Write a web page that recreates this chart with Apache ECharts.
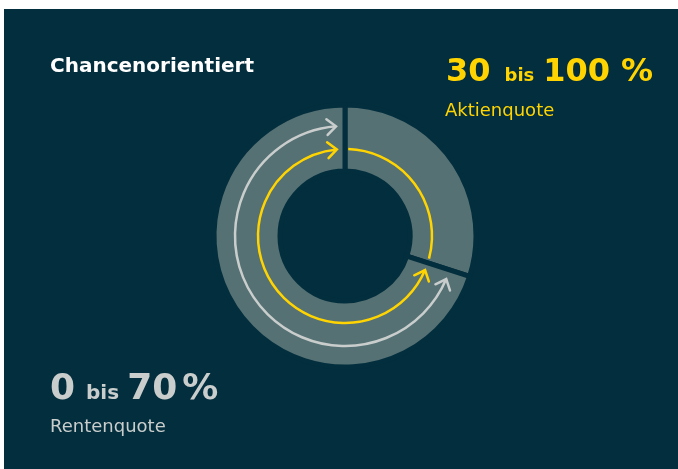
<!DOCTYPE html>
<html>
<head>
<meta charset="utf-8">
<script src="https://cdn.jsdelivr.net/npm/echarts@6/dist/echarts.min.js"></script>
<style>
  html, body { margin: 0; padding: 0; background: #ffffff; }
  #chart { width: 678px; height: 469px; }
</style>
</head>
<body>
<div id="chart"></div>
<script>
// Ring: Anteile in Prozent
var segmentNames = ['Aktien Mindestquote', 'Variabler Anteil'];
var segmentValues = [30, 70];

// Bögen in Prozent des Kreises [von, bis]
var aktienBasis = [[0.6, 29.2]];
var aktienPfeil = [[31.4, 98.5]];
var rentenPfeil = [[31.4, 98.7]];

// Texte
var titel = 'Chancenorientiert';
var aktienZahl = ['30', 'bis', '100', '%'];
var aktienLabel = 'Aktienquote';
var rentenZahl = ['0', 'bis', '70', '%'];
var rentenLabel = 'Rentenquote';

var BG = '#032e3d';
var RING = '#557174';
var YELLOW = '#ffd400';
var GREY = '#c9cecd';
var FONT = '"DejaVu Sans", sans-serif';

var myChart = echarts.init(document.getElementById('chart'));

// Pfeilspitze als offener Winkel
function head(tip, dir, color) {
    var L = 12, t = 0.72;
    function wing(sign) {
        var c = Math.cos(t), s = Math.sin(t) * sign;
        var dx = dir[0] * c - dir[1] * s, dy = dir[0] * s + dir[1] * c;
        return [tip[0] - L * dx, tip[1] - L * dy];
    }
    return {
        type: 'polyline',
        shape: { points: [wing(1), tip, wing(-1)] },
        style: { stroke: color, lineWidth: 2.5, fill: null, lineJoin: 'miter', lineCap: 'round' }
    };
}

function arcRenderer(radius, color, heads) {
    return function (params, api) {
        var cs = params.coordSys;
        var cx = cs.cx, cy = cs.cy;
        var p0 = api.coord([radius, api.value(0)]);
        var p1 = api.coord([radius, api.value(1)]);
        var r = Math.sqrt((p0[0] - cx) * (p0[0] - cx) + (p0[1] - cy) * (p0[1] - cy));
        var a0 = Math.atan2(p0[1] - cy, p0[0] - cx);
        var a1 = Math.atan2(p1[1] - cy, p1[0] - cx);
        if (a1 < a0) a1 += Math.PI * 2;
        var children = [{
            type: 'arc',
            shape: { cx: cx, cy: cy, r: r, startAngle: a0, endAngle: a1, clockwise: true },
            style: { stroke: color, lineWidth: 2.5, fill: null }
        }];
        if (heads) {
            children.push(head(p1, [-Math.sin(a1), Math.cos(a1)], color));
            children.push(head(p0, [Math.sin(a0), -Math.cos(a0)], color));
        }
        return { type: 'group', children: children };
    };
}

// Texte auf eine Grundlinie setzen (zrender zeichnet mit 'middle')
var measureCtx = document.createElement('canvas').getContext('2d');
function textWidth(text, font) {
    measureCtx.font = font;
    measureCtx.textBaseline = 'alphabetic';
    return measureCtx.measureText(text).width;
}
function baselineOffset(font) {
    measureCtx.font = font;
    measureCtx.textBaseline = 'middle';
    var d = measureCtx.measureText('H').actualBoundingBoxDescent;
    measureCtx.textBaseline = 'alphabetic';
    return d;
}
function textAt(text, x, baseline, font, color) {
    return {
        type: 'text', x: x, y: baseline - baselineOffset(font),
        style: { text: text, font: font, fill: color, verticalAlign: 'middle', align: 'left' }
    };
}
function numberLine(parts, x, baseline, bigSize, smallSize, gaps, color) {
    var bigFont = 'bold ' + bigSize + 'px ' + FONT;
    var smallFont = 'bold ' + smallSize + 'px ' + FONT;
    var items = [];
    var pos = x;
    parts.forEach(function (p, i) {
        var f = i === 1 ? smallFont : bigFont;
        items.push(textAt(p, pos, baseline, f, color));
        pos += textWidth(p, f) + (gaps[i] || 0);
    });
    return items;
}

var graphics = [
    { type: 'rect', shape: { x: 4, y: 9, width: 674, height: 460 }, style: { fill: BG }, z: -10 },
    textAt(titel, 50, 72, 'bold 20px ' + FONT, '#ffffff'),
    textAt(aktienLabel, 445, 116, '18px ' + FONT, YELLOW),
    textAt(rentenLabel, 50, 432, '18px ' + FONT, GREY)
].concat(numberLine(aktienZahl, 446, 81, 32, 18, [14, 9, 11], YELLOW))
 .concat(numberLine(rentenZahl, 50, 399, 36, 20, [11, 8, 5], GREY));

var option = {
    backgroundColor: '#ffffff',
    animation: false,
    graphic: graphics,
    polar: { center: [345, 236], radius: [0, 128] },
    angleAxis: { type: 'value', min: 0, max: 100, startAngle: 90, clockwise: true, show: false },
    radiusAxis: { type: 'value', min: 0, max: 128, show: false },
    series: [
        {
            type: 'pie',
            center: [345, 236],
            radius: [65, 131],
            startAngle: 90,
            silent: true,
            label: { show: false },
            labelLine: { show: false },
            itemStyle: { color: RING, borderColor: BG, borderWidth: 5 },
            data: segmentNames.map(function (n, i) { return { name: n, value: segmentValues[i] }; })
        },
        {
            type: 'custom', coordinateSystem: 'polar', silent: true, z: 5,
            renderItem: arcRenderer(87, YELLOW, false),
            data: aktienBasis
        },
        {
            type: 'custom', coordinateSystem: 'polar', silent: true, z: 5,
            renderItem: arcRenderer(87, YELLOW, true),
            data: aktienPfeil
        },
        {
            type: 'custom', coordinateSystem: 'polar', silent: true, z: 5,
            renderItem: arcRenderer(110, GREY, true),
            data: rentenPfeil
        }
    ]
};
myChart.setOption(option);
window.addEventListener('resize', function () {
    myChart.resize();
});
</script>
</body>
</html>
